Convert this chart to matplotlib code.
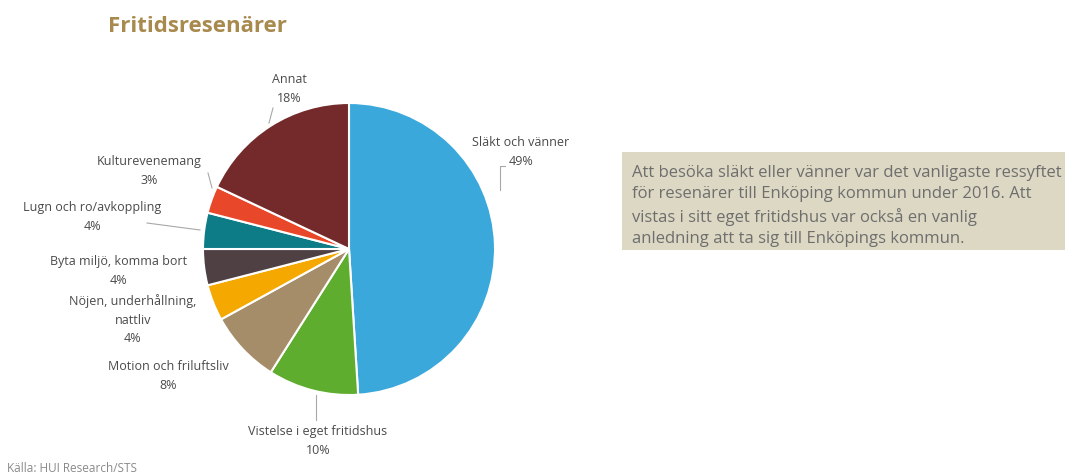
import matplotlib
matplotlib.use("Agg")
import matplotlib.pyplot as plt
from matplotlib.patches import Rectangle

# data, clockwise from 12 o'clock
labels = ["Släkt och vänner", "Vistelse i eget fritidshus", "Motion och friluftsliv",
          "Nöjen, underhållning,\nnattliv", "Byta miljö, komma bort",
          "Lugn och ro/avkoppling", "Kulturevenemang", "Annat"]
values = [49, 10, 8, 4, 4, 4, 3, 18]
colors = ["#3AA8DB", "#5FAD2E", "#A48D68", "#F5A800", "#4F4043",
          "#0E7C86", "#E8472A", "#742A2A"]

title = "Fritidsresenärer"
note = ("Att besöka släkt eller vänner var det vanligaste ressyftet\n"
        "för resenärer till Enköping kommun under 2016. Att\n"
        "vistas i sitt eget fritidshus var också en vanlig\n"
        "anledning att ta sig till Enköpings kommun.")
source = "Källa: HUI Research/STS"

W, H = 1065, 475
plt.rcParams["font.family"] = ["Open Sans", "DejaVu Sans"]

fig = plt.figure(figsize=(W / 100, H / 100), dpi=100)
ax = fig.add_axes([0, 0, 1, 1])


def Y(y):
    # pixel row (from top) -> data y
    return H - y


ax.pie(values, colors=colors, startangle=90, counterclock=False,
       center=(349, Y(249)), radius=146, frame=True,
       wedgeprops=dict(edgecolor="white", linewidth=1.5))
ax.set_xlim(0, W)
ax.set_ylim(0, H)
ax.set_aspect("equal")
ax.axis("off")

# label positions: centre x, row of first line (pixels from top)
lab_pos = [(521, 143), (318, 432), (168, 367), (133, 302), (119, 262),
           (92, 208), (149, 162), (289, 80)]
pitch = 18
for lab, v, (x, y) in zip(labels, values, lab_pos):
    txt = lab + "\n" + f"{v}%"
    n = txt.count("\n") + 1
    ax.text(x, Y(y + (n - 1) * pitch / 2), txt, ha="center", va="center",
            fontsize=9, color="#4A4A4A", linespacing=1.55)

lines = [
    [(505, 166), (500, 166), (500, 190)],
    [(316, 395), (316, 420)],
    [(273, 108), (269, 123)],
    [(208, 173), (212, 188)],
    [(147, 223), (200, 230)],
]
for pts in lines:
    ax.plot([p[0] for p in pts], [Y(p[1]) for p in pts], color="#A8A8A8", lw=0.8)

fig.text(108 / W, 1 - 27 / H, title, ha="left", va="center", fontsize=16,
         fontweight="bold", color="#A88A4E")

ax.add_patch(Rectangle((622, Y(250)), 460, 98, facecolor="#DCD8C3",
                       edgecolor="none", clip_on=False))
ax.text(632, Y(206), note, ha="left", va="center", fontsize=12,
        color="#6E6E6E", linespacing=1.4)

fig.text(7 / W, 1 - 468 / H, source, ha="left", va="center", fontsize=8.5,
         color="#8A8A8A")

fig.savefig("out.png", dpi=100)
